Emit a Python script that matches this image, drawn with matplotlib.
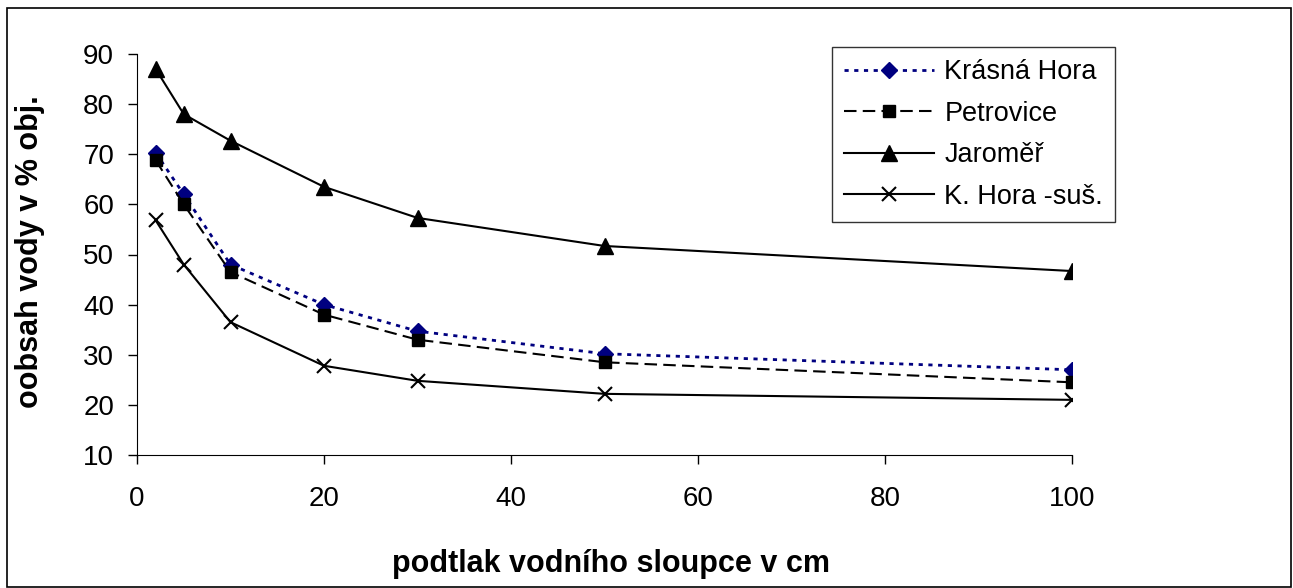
import matplotlib.pyplot as plt
from matplotlib.patches import Rectangle

plt.rcParams['font.family'] = ['Liberation Sans', 'DejaVu Sans']

# data
podtlak = [2, 5, 10, 20, 30, 50, 100]
krasna_hora = [70.3, 62.0, 48.0, 40.0, 34.7, 30.2, 27.0]
petrovice = [68.8, 60.0, 46.5, 38.0, 33.0, 28.5, 24.5]
jaromer = [87.0, 78.0, 72.7, 63.5, 57.3, 51.7, 46.7]
k_hora_sus = [56.8, 48.0, 36.5, 27.8, 24.8, 22.2, 21.0]

W, H = 1293, 588
fig = plt.figure(figsize=(W / 100, H / 100), dpi=100)
ax = fig.add_axes([137 / W, 1 - 455 / H, (1072 - 137) / W, (455 - 54) / H])

ax.plot(podtlak, krasna_hora, linestyle=(0, (1.5, 2)), color='#000080', lw=2,
        marker='D', markersize=8.5, label='Krásná Hora')
ax.plot(podtlak, petrovice, linestyle=(0, (6, 3)), color='black', lw=1.5,
        marker='s', markersize=9, label='Petrovice')
ax.plot(podtlak, jaromer, linestyle='-', color='black', lw=1.5,
        marker='^', markersize=11, label='Jaroměř')
ax.plot(podtlak, k_hora_sus, linestyle='-', color='black', lw=1.5,
        marker='x', markersize=10.5, markeredgewidth=1.5, label='K. Hora -suš.')

ax.set_xlim(0, 100)
ax.set_ylim(10, 90)
ax.set_xticks(range(0, 101, 20))
ax.set_yticks(range(10, 91, 10))
ax.tick_params(labelsize=20, direction='out', length=6.5, width=1)
ax.tick_params(axis='x', pad=16)
ax.tick_params(axis='y', pad=10)
ax.spines['top'].set_visible(False)
ax.spines['right'].set_visible(False)

ax.set_xlabel('podtlak vodního sloupce v cm', fontsize=22, fontweight='bold')
ax.xaxis.set_label_coords(611 / W, 1 - 549 / H, transform=fig.transFigure)
ax.set_ylabel('oobsah vody v % obj.', fontsize=22, fontweight='bold')
ax.yaxis.set_label_coords(45 / W, 1 - 252 / H, transform=fig.transFigure)

leg = ax.legend(loc='upper left', bbox_to_anchor=(832 / W, 1 - 47 / H),
                bbox_transform=fig.transFigure, fontsize=19.5, frameon=True,
                fancybox=False, edgecolor='black', handlelength=3.3,
                handletextpad=0.4, labelspacing=0.57, borderpad=0.45,
                borderaxespad=0)
leg.get_frame().set_linewidth(1)

fig.patches.append(Rectangle((7 / W, 1 - 587 / H), (1291 - 7) / W, (587 - 8) / H,
                             transform=fig.transFigure, fill=False,
                             edgecolor='black', lw=1.2))

fig.savefig('out.png', dpi=100)
